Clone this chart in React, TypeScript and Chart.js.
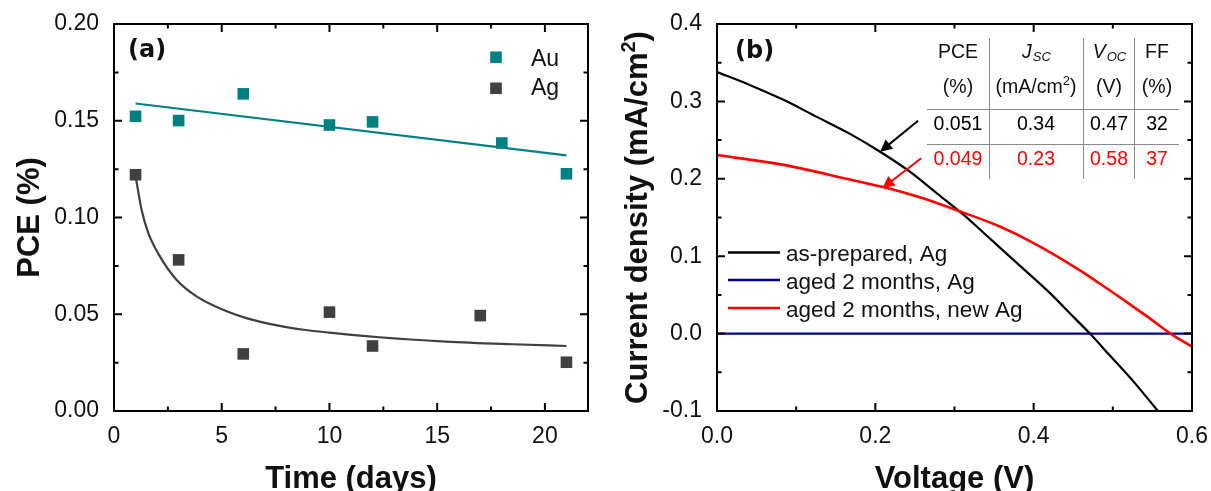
import React, { useEffect, useRef } from "react";
import { Chart, registerables } from "chart.js";

Chart.register(...registerables);

// ---------- Panel (a) data ----------
const auDays = [1, 3, 6, 10, 12, 18, 21];
const auPCE = [0.1523, 0.1501, 0.1639, 0.1478, 0.1494, 0.1385, 0.1226];
const agDays = [1, 3, 6, 10, 12, 17, 21];
const agPCE = [0.1221, 0.0781, 0.0295, 0.0511, 0.0336, 0.0493, 0.0252];
const auFitDays = [1, 21];
const auFitPCE = [0.1589, 0.1321];
const agFitDays = [1.03, 1.28, 1.59, 2.13, 2.9, 3.83, 5.06, 6.14, 7.69, 8.8, 10, 12.3, 15.4, 18.5, 21];
const agFitPCE = [0.1195, 0.104, 0.092, 0.0799, 0.0678, 0.0592, 0.0523, 0.048, 0.044, 0.042, 0.0405, 0.0381, 0.0359, 0.0345, 0.0336];

const xTicksA = [0, 5, 10, 15, 20];
const xTickLabelsA = ["0", "5", "10", "15", "20"];
const xMinorA = [2.5, 7.5, 12.5, 17.5];
const yTicksA = [0, 0.05, 0.1, 0.15, 0.2];
const yTickLabelsA = ["0.00", "0.05", "0.10", "0.15", "0.20"];
const yMinorA = [0.025, 0.075, 0.125, 0.175];

// ---------- Panel (b) data ----------
const asPreparedV = [0, 0.042, 0.084, 0.126, 0.168, 0.206, 0.244, 0.278, 0.312, 0.337, 0.379, 0.421, 0.446, 0.471, 0.496, 0.527, 0.557];
const asPreparedJ = [0.338, 0.321, 0.302, 0.28, 0.258, 0.235, 0.209, 0.181, 0.153, 0.13, 0.091, 0.052, 0.026, 0.0, -0.028, -0.063, -0.1];
const agedV = [0, 0.6];
const agedJ = [0, 0];
const newAgV = [0, 0.084, 0.168, 0.211, 0.253, 0.312, 0.358, 0.4, 0.455, 0.496, 0.513, 0.545, 0.573, 0.6];
const newAgJ = [0.2307, 0.218, 0.199, 0.189, 0.177, 0.156, 0.138, 0.117, 0.084, 0.056, 0.044, 0.021, 0.0, -0.017];

const xTicksB = [0, 0.2, 0.4, 0.6];
const xTickLabelsB = ["0.0", "0.2", "0.4", "0.6"];
const xMinorB = [0.1, 0.3, 0.5];
const yTicksB = [-0.1, 0, 0.1, 0.2, 0.3, 0.4];
const yTickLabelsB = ["-0.1", "0.0", "0.1", "0.2", "0.3", "0.4"];
const yMinorB = [-0.05, 0.05, 0.15, 0.25, 0.35];

// arrows: [fromV, fromJ, toV, toJ]
const arrowBlack = [0.254, 0.275, 0.206, 0.235];
const arrowRed = [0.258, 0.2265, 0.209, 0.188];

// table
const tableHead = ["PCE", "J", "V", "FF"];
const tableHeadSub = ["", "SC", "OC", ""];
const tableUnits = ["(%)", "(mA/cm", "(V)", "(%)"];
const tableRowBlack = ["0.051", "0.34", "0.47", "32"];
const tableRowRed = ["0.049", "0.23", "0.58", "37"];

const SANS = '"Liberation Sans", Arial, sans-serif';
const TEAL = "#008080";
const GRAY = "#404040";
const TXT = "#111111";

function pts(xs: number[], ys: number[]) {
  return xs.map((x, i) => ({ x, y: ys[i] }));
}

function drawFrameTicks(ctx: CanvasRenderingContext2D, chart: any, xMaj: number[], xMin: number[], yMaj: number[], yMin: number[]) {
  const ca = chart.chartArea;
  const xs = chart.scales.x;
  const ys = chart.scales.y;
  ctx.save();
  ctx.strokeStyle = "#000";
  ctx.lineWidth = 2;
  ctx.strokeRect(ca.left, ca.top, ca.right - ca.left, ca.bottom - ca.top);
  const tick = (vals: number[], len: number) => {
    vals.forEach((v) => {
      const px = xs.getPixelForValue(v);
      ctx.beginPath();
      ctx.moveTo(px, ca.bottom);
      ctx.lineTo(px, ca.bottom - len);
      ctx.moveTo(px, ca.top);
      ctx.lineTo(px, ca.top + len);
      ctx.stroke();
    });
  };
  const tickY = (vals: number[], len: number) => {
    vals.forEach((v) => {
      const py = ys.getPixelForValue(v);
      ctx.beginPath();
      ctx.moveTo(ca.left, py);
      ctx.lineTo(ca.left + len, py);
      ctx.moveTo(ca.right, py);
      ctx.lineTo(ca.right - len, py);
      ctx.stroke();
    });
  };
  tick(xMaj, 8);
  tick(xMin, 4.5);
  tickY(yMaj, 8);
  tickY(yMin, 4.5);
  ctx.restore();
}

function vTitle(ctx: CanvasRenderingContext2D, x: number, y: number, parts: { t: string; font: string; dy: number }[]) {
  ctx.save();
  ctx.translate(x, y);
  ctx.rotate(-Math.PI / 2);
  let total = 0;
  const ws = parts.map((p) => {
    ctx.font = p.font;
    const w = ctx.measureText(p.t).width;
    total += w;
    return w;
  });
  let cx = -total / 2;
  ctx.textAlign = "left";
  ctx.textBaseline = "alphabetic";
  ctx.fillStyle = TXT;
  parts.forEach((p, i) => {
    ctx.font = p.font;
    ctx.fillText(p.t, cx, p.dy);
    cx += ws[i];
  });
  ctx.restore();
}

function arrow(ctx: CanvasRenderingContext2D, chart: any, a: number[], color: string) {
  const xs = chart.scales.x;
  const ys = chart.scales.y;
  const x1 = xs.getPixelForValue(a[0]);
  const y1 = ys.getPixelForValue(a[1]);
  const x2 = xs.getPixelForValue(a[2]);
  const y2 = ys.getPixelForValue(a[3]);
  const ang = Math.atan2(y2 - y1, x2 - x1);
  const L = 12;
  const W = 6;
  ctx.save();
  ctx.strokeStyle = color;
  ctx.fillStyle = color;
  ctx.lineWidth = 2;
  ctx.beginPath();
  ctx.moveTo(x1, y1);
  ctx.lineTo(x2 - Math.cos(ang) * L * 0.8, y2 - Math.sin(ang) * L * 0.8);
  ctx.stroke();
  ctx.beginPath();
  ctx.moveTo(x2, y2);
  ctx.lineTo(x2 - Math.cos(ang) * L - Math.sin(ang) * W, y2 - Math.sin(ang) * L + Math.cos(ang) * W);
  ctx.lineTo(x2 - Math.cos(ang) * L + Math.sin(ang) * W, y2 - Math.sin(ang) * L - Math.cos(ang) * W);
  ctx.closePath();
  ctx.fill();
  ctx.restore();
}

const decorA = {
  id: "decorA",
  afterDraw(chart: any) {
    const ctx: CanvasRenderingContext2D = chart.ctx;
    drawFrameTicks(ctx, chart, xTicksA, xMinorA, yTicksA, yMinorA);
    const ca = chart.chartArea;
    ctx.save();
    ctx.fillStyle = TXT;
    ctx.font = `bold 31px ${SANS}`;
    ctx.textAlign = "center";
    ctx.textBaseline = "alphabetic";
    ctx.fillText("Time (days)", (ca.left + ca.right) / 2, 488);
    ctx.font = `bold 24px "DejaVu Sans", sans-serif`;
    ctx.textAlign = "left";
    ctx.fillText("(a)", 128, 57);
    const ds = chart.data.datasets;
    const rows = [
      { y: 57.3, base: 66, d: ds[0] },
      { y: 88.3, base: 95, d: ds[1] },
    ];
    rows.forEach((r) => {
      ctx.fillStyle = r.d.backgroundColor;
      ctx.fillRect(496 - 5.8, r.y - 5.8, 11.6, 11.6);
      ctx.fillStyle = TXT;
      ctx.font = `23px ${SANS}`;
      ctx.fillText(r.d.label, 531, r.base);
    });
    ctx.restore();
    vTitle(ctx, 39, (ca.top + ca.bottom) / 2, [{ t: "PCE (%)", font: `bold 31px ${SANS}`, dy: 0 }]);
  },
};

const decorB = {
  id: "decorB",
  afterDraw(chart: any) {
    const ctx: CanvasRenderingContext2D = chart.ctx;
    drawFrameTicks(ctx, chart, xTicksB, xMinorB, yTicksB, yMinorB);
    const ca = chart.chartArea;
    arrow(ctx, chart, arrowBlack, "#000000");
    arrow(ctx, chart, arrowRed, "#ff0000");
    ctx.save();
    ctx.fillStyle = TXT;
    ctx.font = `bold 31px ${SANS}`;
    ctx.textAlign = "center";
    ctx.textBaseline = "alphabetic";
    ctx.fillText("Voltage (V)", (ca.left + ca.right) / 2, 488);
    ctx.font = `bold 24px "DejaVu Sans", sans-serif`;
    ctx.textAlign = "left";
    ctx.fillText("(b)", 130, 58);

    const ds = chart.data.datasets;
    const legendRows = [
      { y: 252.5, d: ds[0] },
      { y: 280, d: ds[1] },
      { y: 308, d: ds[2] },
    ];
    legendRows.forEach((r) => {
      ctx.strokeStyle = r.d.borderColor;
      ctx.lineWidth = 2.5;
      ctx.beginPath();
      ctx.moveTo(123, r.y);
      ctx.lineTo(175, r.y);
      ctx.stroke();
      ctx.fillStyle = TXT;
      ctx.font = `22.5px ${SANS}`;
      ctx.textAlign = "left";
      ctx.fillText(r.d.label, 181, r.y + 8.5);
    });

    const colX = [353, 431, 504, 552];
    ctx.strokeStyle = "#8a8a8a";
    ctx.lineWidth = 1;
    ctx.beginPath();
    [384, 478, 529].forEach((x) => {
      ctx.moveTo(x + 0.5, 38);
      ctx.lineTo(x + 0.5, 179);
    });
    [109, 144].forEach((y) => {
      ctx.moveTo(322, y + 0.5);
      ctx.lineTo(574, y + 0.5);
    });
    ctx.stroke();

    const F = `19.5px ${SANS}`;
    const FI = `italic 19.5px ${SANS}`;
    const FS = `italic 13px ${SANS}`;
    ctx.fillStyle = TXT;
    tableHead.forEach((h, i) => {
      if (tableHeadSub[i]) {
        ctx.font = FI;
        const w1 = ctx.measureText(h).width;
        ctx.font = FS;
        const w2 = ctx.measureText(tableHeadSub[i]).width;
        const start = colX[i] - (w1 + w2) / 2;
        ctx.textAlign = "left";
        ctx.font = FI;
        ctx.fillText(h, start, 58);
        ctx.font = FS;
        ctx.fillText(tableHeadSub[i], start + w1 + 1, 61);
      } else {
        ctx.font = F;
        ctx.textAlign = "center";
        ctx.fillText(h, colX[i], 58);
      }
    });
    tableUnits.forEach((u, i) => {
      if (i === 1) {
        ctx.font = F;
        const w1 = ctx.measureText(u).width;
        const w3 = ctx.measureText(")").width;
        ctx.font = `13px ${SANS}`;
        const w2 = ctx.measureText("2").width;
        const start = colX[i] - (w1 + w2 + w3) / 2;
        ctx.textAlign = "left";
        ctx.font = F;
        ctx.fillText(u, start, 93);
        ctx.font = `13px ${SANS}`;
        ctx.fillText("2", start + w1, 85);
        ctx.font = F;
        ctx.fillText(")", start + w1 + w2, 93);
      } else {
        ctx.font = F;
        ctx.textAlign = "center";
        ctx.fillText(u, colX[i], 93);
      }
    });
    ctx.font = F;
    ctx.textAlign = "center";
    tableRowBlack.forEach((v, i) => {
      ctx.fillStyle = "#000000";
      ctx.fillText(v, colX[i], 130);
    });
    tableRowRed.forEach((v, i) => {
      ctx.fillStyle = "#ff0000";
      ctx.fillText(v, colX[i], 165);
    });
    ctx.restore();

    vTitle(ctx, 42, (ca.top + ca.bottom) / 2, [
      { t: "Current density (mA/cm", font: `bold 31px ${SANS}`, dy: 0 },
      { t: "2", font: `bold 20px ${SANS}`, dy: -12 },
      { t: ")", font: `bold 31px ${SANS}`, dy: 0 },
    ]);
  },
};

function axisCommon(ticks: number[], labels: string[], padding: number, fit: (s: any) => void, min: number, max: number) {
  return {
    type: "linear" as const,
    min,
    max,
    grid: { display: false, drawTicks: false },
    border: { display: false },
    ticks: {
      padding,
      color: TXT,
      font: { family: SANS, size: 23 },
      maxRotation: 0,
      autoSkip: false,
      callback: (_v: any, i: number) => labels[i],
    },
    afterBuildTicks: (s: any) => {
      s.ticks = ticks.map((v) => ({ value: v }));
    },
    afterFit: fit,
  };
}

const fitX = (s: any) => {
  s.height = 80;
  s.paddingLeft = 0;
  s.paddingRight = 0;
};
const fitYA = (s: any) => {
  s.width = 114;
  s.paddingTop = 0;
  s.paddingBottom = 0;
};
const fitYB = (s: any) => {
  s.width = 112;
  s.paddingTop = 0;
  s.paddingBottom = 0;
};

export default function App() {
  const refA = useRef<HTMLCanvasElement>(null);
  const refB = useRef<HTMLCanvasElement>(null);

  useEffect(() => {
    const chartA = new Chart(refA.current as HTMLCanvasElement, {
      type: "scatter",
      data: {
        datasets: [
          { label: "Au", data: pts(auDays, auPCE), pointStyle: "rect", pointRadius: 8.2, backgroundColor: TEAL, borderWidth: 0, showLine: false, order: 0 },
          { label: "Ag", data: pts(agDays, agPCE), pointStyle: "rect", pointRadius: 8.2, backgroundColor: GRAY, borderWidth: 0, showLine: false, order: 0 },
          { label: "Au fit", data: pts(auFitDays, auFitPCE), showLine: true, pointRadius: 0, borderColor: TEAL, borderWidth: 2.2, order: 1 },
          { label: "Ag fit", data: pts(agFitDays, agFitPCE), showLine: true, pointRadius: 0, borderColor: GRAY, borderWidth: 2.2, cubicInterpolationMode: "monotone", order: 1 },
        ] as any,
      },
      options: {
        animation: false,
        responsive: false,
        layout: { padding: { top: 24, right: 17, left: 0, bottom: 0 } },
        plugins: { legend: { display: false }, tooltip: { enabled: false } },
        scales: {
          x: { ...axisCommon(xTicksA, xTickLabelsA, 12, fitX, 0, 22), position: "bottom" },
          y: { ...axisCommon(yTicksA, yTickLabelsA, 15, fitYA, 0, 0.2), position: "left" },
        } as any,
      },
      plugins: [decorA],
    });

    const chartB = new Chart(refB.current as HTMLCanvasElement, {
      type: "scatter",
      data: {
        datasets: [
          { label: "as-prepared, Ag", data: pts(asPreparedV, asPreparedJ), showLine: true, pointRadius: 0, borderColor: "#000000", borderWidth: 2.2, cubicInterpolationMode: "monotone", order: 1 },
          { label: "aged 2 months, Ag", data: pts(agedV, agedJ), showLine: true, pointRadius: 0, borderColor: "#00008b", borderWidth: 2.2, order: 2 },
          { label: "aged 2 months, new Ag", data: pts(newAgV, newAgJ), showLine: true, pointRadius: 0, borderColor: "#ff0000", borderWidth: 2.6, cubicInterpolationMode: "monotone", order: 0 },
        ] as any,
      },
      options: {
        animation: false,
        responsive: false,
        layout: { padding: { top: 24, right: 19, left: 0, bottom: 0 } },
        plugins: { legend: { display: false }, tooltip: { enabled: false } },
        scales: {
          x: { ...axisCommon(xTicksB, xTickLabelsB, 12, fitX, 0, 0.6), position: "bottom" },
          y: { ...axisCommon(yTicksB, yTickLabelsB, 15, fitYB, -0.1, 0.4), position: "left" },
        } as any,
      },
      plugins: [decorB],
    });

    return () => {
      chartA.destroy();
      chartB.destroy();
    };
  }, []);

  return (
    <div style={{ position: "fixed", left: 0, top: 0, width: 1211, height: 491, background: "#ffffff" }}>
      <canvas ref={refA} width={605} height={491} style={{ position: "absolute", left: 0, top: 0, width: 605, height: 491 }} />
      <canvas ref={refB} width={606} height={491} style={{ position: "absolute", left: 605, top: 0, width: 606, height: 491 }} />
    </div>
  );
}
